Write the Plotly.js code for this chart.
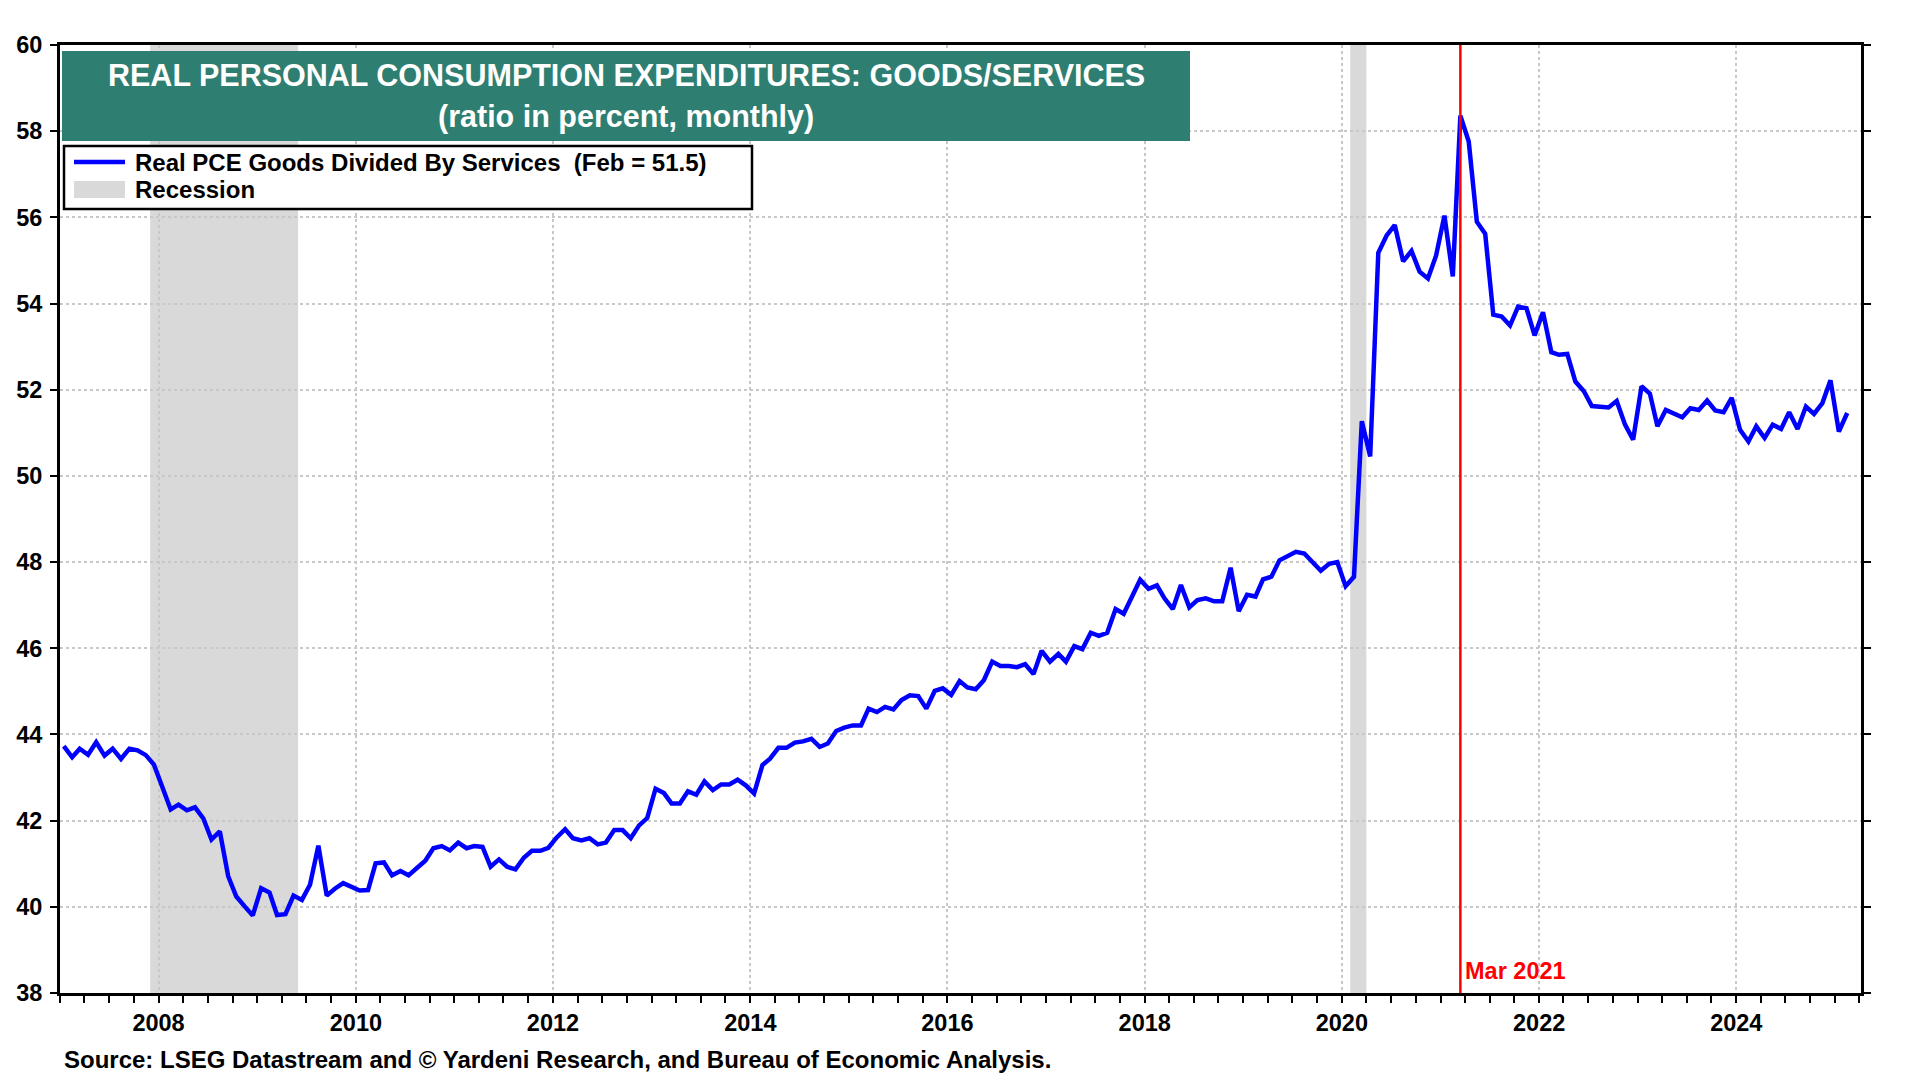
<!DOCTYPE html>
<html>
<head>
<meta charset="utf-8">
<script src="https://cdn.plot.ly/plotly-3.0.1.min.js"></script>
<style>
  html, body { margin: 0; padding: 0; background: #fff; }
  #chart { width: 1920px; height: 1080px; }
</style>
</head>
<body>
<div id="chart"></div>
<script>
// monthly values (ratio in percent)
var years = [2007, 2008, 2009, 2010, 2011, 2012, 2013, 2014, 2015, 2016,
             2017, 2018, 2019, 2020, 2021, 2022, 2023, 2024, 2025];
var v2007 = [43.73, 43.47, 43.67, 43.53, 43.82, 43.51, 43.67, 43.43, 43.67, 43.63, 43.52, 43.30];
var v2008 = [42.78, 42.26, 42.37, 42.24, 42.31, 42.05, 41.56, 41.75, 40.71, 40.24, 40.01, 39.80];
var v2009 = [40.43, 40.33, 39.81, 39.83, 40.26, 40.16, 40.51, 41.42, 40.26, 40.42, 40.55, 40.48];
var v2010 = [40.38, 40.39, 41.01, 41.03, 40.73, 40.83, 40.73, 40.90, 41.07, 41.36, 41.41, 41.31];
var v2011 = [41.49, 41.36, 41.41, 41.39, 40.93, 41.10, 40.93, 40.87, 41.14, 41.30, 41.30, 41.37];
var v2012 = [41.61, 41.80, 41.59, 41.54, 41.59, 41.45, 41.49, 41.78, 41.78, 41.59, 41.89, 42.06];
var v2013 = [42.74, 42.64, 42.40, 42.40, 42.68, 42.60, 42.91, 42.71, 42.84, 42.84, 42.95, 42.82];
var v2014 = [42.63, 43.29, 43.44, 43.69, 43.69, 43.81, 43.84, 43.90, 43.71, 43.79, 44.08, 44.16];
var v2015 = [44.21, 44.21, 44.60, 44.52, 44.64, 44.58, 44.80, 44.91, 44.89, 44.60, 45.01, 45.07];
var v2016 = [44.92, 45.24, 45.09, 45.05, 45.26, 45.69, 45.59, 45.59, 45.56, 45.63, 45.40, 45.94];
var v2017 = [45.69, 45.87, 45.69, 46.05, 45.98, 46.36, 46.29, 46.36, 46.91, 46.80, 47.19, 47.59];
var v2018 = [47.38, 47.46, 47.16, 46.91, 47.47, 46.95, 47.12, 47.16, 47.09, 47.09, 47.87, 46.86];
var v2019 = [47.24, 47.20, 47.60, 47.66, 48.04, 48.14, 48.24, 48.20, 48.00, 47.80, 47.96, 48.00];
var v2020 = [47.44, 47.66, 51.27, 50.45, 55.18, 55.58, 55.82, 54.98, 55.22, 54.74, 54.58, 55.11];
var v2021 = [56.04, 54.63, 58.36, 57.76, 55.90, 55.62, 53.74, 53.70, 53.49, 53.93, 53.89, 53.26];
var v2022 = [53.80, 52.87, 52.81, 52.83, 52.19, 51.97, 51.62, 51.60, 51.59, 51.74, 51.19, 50.84];
var v2023 = [52.08, 51.91, 51.15, 51.53, 51.44, 51.36, 51.57, 51.53, 51.75, 51.52, 51.48, 51.81];
var v2024 = [51.07, 50.80, 51.15, 50.88, 51.19, 51.09, 51.48, 51.09, 51.61, 51.44, 51.69, 52.22];
var v2025 = [51.03, 51.46];

var recessionStart = ['2007-12-01', '2020-02-01'];
var recessionEnd   = ['2009-06-01', '2020-04-01'];
var markerDate  = '2021-03-15';
var markerLabel = 'Mar 2021';

var titleLine1 = 'REAL PERSONAL CONSUMPTION EXPENDITURES: GOODS/SERVICES';
var titleLine2 = '(ratio in percent, monthly)';
var seriesName = 'Real PCE Goods Divided By Services  (Feb = 51.5)';
var sourceText = 'Source: LSEG Datastream and \u00a9 Yardeni Research, and Bureau of Economic Analysis.';

/////////////////////////////////////////////  build series  /////////////////////////////////////////////

var byYear = [v2007, v2008, v2009, v2010, v2011, v2012, v2013, v2014, v2015, v2016,
              v2017, v2018, v2019, v2020, v2021, v2022, v2023, v2024, v2025];
var dates = [];
var ratio = [];
for (var i = 0; i < years.length; i++) {
  for (var m = 0; m < byYear[i].length; m++) {
    dates.push(years[i] + '-' + String(m + 1).padStart(2, '0') + '-15');
    ratio.push(byYear[i][m]);
  }
}

/////////////////////////////////////////////  layout helpers  /////////////////////////////////////////////

// plot area in pixels: left 60, right 1861, top 45, bottom 993
function px(x) { return (x - 60) / 1801; }
function py(y) { return (993 - y) / 948; }

var fontFam = 'Liberation Sans, Arial, sans-serif';
var boldFont = function (size, color) {
  return {family: fontFam, size: size, color: color || '#000', weight: 'bold'};
};

var shapes = [];
for (var r = 0; r < recessionStart.length; r++) {
  shapes.push({
    type: 'rect', xref: 'x', yref: 'paper',
    x0: recessionStart[r], x1: recessionEnd[r], y0: 0, y1: 1,
    fillcolor: '#D9D9D9', line: {width: 0}, layer: 'below'
  });
}
shapes.push({
  type: 'line', xref: 'x', yref: 'paper',
  x0: markerDate, x1: markerDate, y0: 0, y1: 1,
  line: {color: '#FF0000', width: 2.5}
});
// title box
shapes.push({
  type: 'rect', xref: 'paper', yref: 'paper',
  x0: px(62), x1: px(1190), y0: py(141), y1: py(51),
  fillcolor: '#2E7E71', line: {width: 0}
});
// legend box and keys
shapes.push({
  type: 'rect', xref: 'paper', yref: 'paper',
  x0: px(64), x1: px(752), y0: py(209), y1: py(146),
  fillcolor: '#FFFFFF', line: {color: '#000', width: 2.5}
});
shapes.push({
  type: 'line', xref: 'paper', yref: 'paper',
  x0: px(74), x1: px(125), y0: py(162), y1: py(162),
  line: {color: '#0000FF', width: 4.5}
});
shapes.push({
  type: 'rect', xref: 'paper', yref: 'paper',
  x0: px(74), x1: px(125), y0: py(198), y1: py(181),
  fillcolor: '#D9D9D9', line: {width: 0}
});

var annotations = [
  {text: titleLine1, xref: 'paper', yref: 'paper', x: px(626), y: py(75),
   xanchor: 'center', yanchor: 'middle', showarrow: false, font: boldFont(30.5, '#FFFFFF')},
  {text: titleLine2, xref: 'paper', yref: 'paper', x: px(626), y: py(117),
   xanchor: 'center', yanchor: 'middle', showarrow: false, font: boldFont(30.5, '#FFFFFF')},
  {text: seriesName, xref: 'paper', yref: 'paper', x: px(133), y: py(162),
   xanchor: 'left', yanchor: 'middle', showarrow: false, font: boldFont(24)},
  {text: 'Recession', xref: 'paper', yref: 'paper', x: px(133), y: py(189),
   xanchor: 'left', yanchor: 'middle', showarrow: false, font: boldFont(24)},
  {text: markerLabel, xref: 'x', yref: 'paper', x: markerDate, y: py(971),
   xanchor: 'left', yanchor: 'middle', xshift: 3, showarrow: false, font: boldFont(23.5, '#FF0000')},
  {text: sourceText, xref: 'paper', yref: 'paper', x: px(62), y: py(1059),
   xanchor: 'left', yanchor: 'middle', showarrow: false, font: boldFont(24)}
];

var trace = {
  x: dates, y: ratio, type: 'scatter', mode: 'lines',
  line: {color: '#0000FF', width: 4.5}, hoverinfo: 'skip', showlegend: false
};

var layout = {
  width: 1920, height: 1080,
  margin: {l: 60, r: 59, t: 45, b: 87},
  paper_bgcolor: '#FFFFFF', plot_bgcolor: '#FFFFFF',
  showlegend: false,
  xaxis: {
    type: 'date', range: ['2007-01-01', '2025-04-07'],
    tick0: '2008-01-01', dtick: 'M24', tickformat: '%Y',
    ticks: 'outside', ticklen: 7, tickwidth: 2, tickcolor: '#000',
    showline: true, linecolor: '#000', linewidth: 3, mirror: true,
    showgrid: true, gridcolor: '#C8C8C8', gridwidth: 2, griddash: 'dot',
    zeroline: false, tickfont: boldFont(23.5),
    minor: {tick0: '2007-01-01', dtick: 'M3', ticks: 'outside', ticklen: 7,
            tickwidth: 2, tickcolor: '#000', showgrid: false}
  },
  yaxis: {
    range: [38, 60], dtick: 2, tick0: 38,
    ticks: 'outside', ticklen: 7, tickwidth: 2, tickcolor: '#000',
    showline: true, linecolor: '#000', linewidth: 3, mirror: 'ticks',
    showgrid: true, gridcolor: '#C8C8C8', gridwidth: 2, griddash: 'dot',
    zeroline: false, tickfont: boldFont(23.5), ticklabelstandoff: 3
  },
  yaxis2: {
    range: [38, 60], dtick: 2, tick0: 38, overlaying: 'y', side: 'right', anchor: 'x',
    ticks: '', showline: false, showgrid: false, zeroline: false,
    ticklabelstandoff: 12, tickfont: boldFont(23.5)
  },
  shapes: shapes,
  annotations: annotations
};

Plotly.newPlot('chart', [trace], layout, {staticPlot: true, displayModeBar: false});
</script>
</body>
</html>
